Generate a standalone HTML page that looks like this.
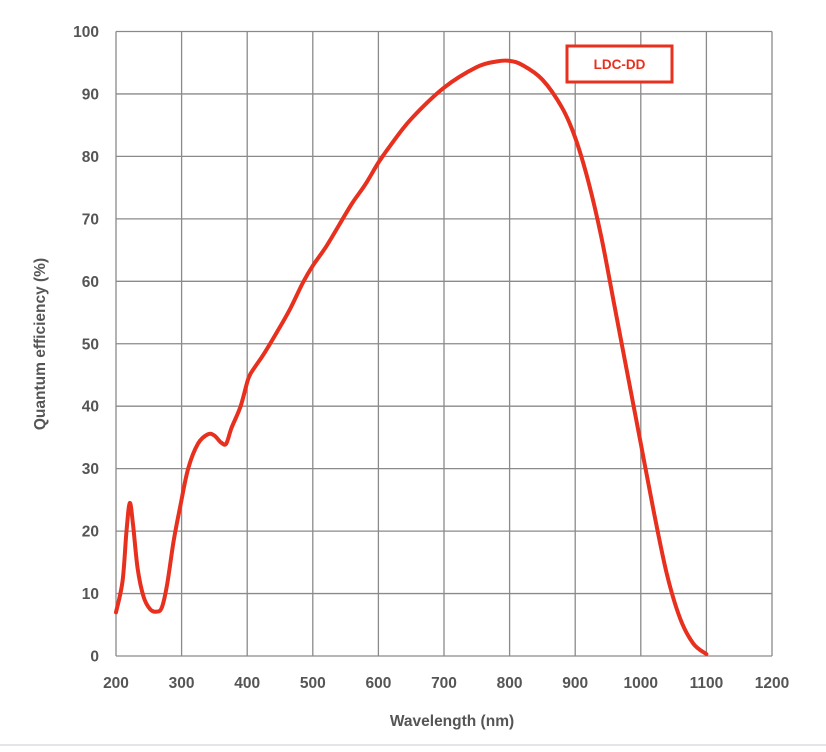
<!DOCTYPE html>
<html><head><meta charset="utf-8"><style>
body{margin:0;background:#fff;width:826px;height:747px;overflow:hidden}
svg text{font-family:"Liberation Sans",Arial,sans-serif;font-weight:bold;fill:#555}
</style></head><body>
<svg width="826" height="747" xmlns="http://www.w3.org/2000/svg">
<g id="grid" stroke="#8a8a8a" stroke-width="1.3" fill="none"></g>
<g id="lab" font-size="15.5"></g>
<text x="45" y="344" font-size="15.5" text-anchor="middle" transform="rotate(-90 45 344)">Quantum efficiency (%)</text>
<text x="452" y="726" font-size="15.5" text-anchor="middle">Wavelength (nm)</text>
<path id="curve" fill="none" stroke="#e8301f" stroke-width="4" stroke-linecap="round" stroke-linejoin="round"/>
<rect x="567" y="46" width="105" height="36" fill="#fff" stroke="#e8301f" stroke-width="3"/>
<text x="619.5" y="69" font-size="13.5" text-anchor="middle" style="fill:#e8301f">LDC-DD</text>
<line x1="0" y1="745" x2="826" y2="745" stroke="#e4e4ec" stroke-width="2"/>
</svg>
<script>
var L=116,R=772,T=31.5,B=656,ns="http://www.w3.org/2000/svg";
var g=document.getElementById('grid'),lab=document.getElementById('lab');
function el(p,t,a,txt){var e=document.createElementNS(ns,t);for(var k in a)e.setAttribute(k,a[k]);if(txt)e.textContent=txt;p.appendChild(e);}
for(var i=0;i<=10;i++){var x=L+(R-L)*i/10;el(g,'line',{x1:x,y1:T,x2:x,y2:B});el(lab,'text',{x:x,y:688,'text-anchor':'middle'},String(200+100*i));
var y=B-(B-T)*i/10;el(g,'line',{x1:L,y1:y,x2:R,y2:y});el(lab,'text',{x:99,y:y+5.5,'text-anchor':'end'},String(10*i));}
var d=[[200,7],[210,12],[216,20],[221,24.5],[226,21],[233,14],[242,9.5],[252,7.5],[262,7.1],[270,7.8],[278,11.5],[288,18.5],[298,24],[310,30],[325,34],[340,35.5],[350,35.3],[360,34.2],[368,34],[376,36.5],[390,40],[402,44.5],[412,46.3],[425,48.3],[445,51.8],[465,55.5],[485,59.8],[500,62.5],[520,65.5],[540,69],[560,72.5],[580,75.5],[600,79],[620,82],[650,86],[700,91],[750,94.3],[780,95.2],[800,95.3],[820,94.6],[850,92.3],[880,87.8],[900,83],[920,76],[940,67],[960,56],[980,45],[1000,34],[1020,23],[1040,13],[1060,6],[1080,2],[1100,0.3]];
var p=d.map(function(a){return[L+(a[0]-200)*(R-L)/1000,B-a[1]*(B-T)/100]});
var s='M'+p[0][0]+','+p[0][1];
for(var i=0;i<p.length-1;i++){var p0=p[i-1]||p[i],p1=p[i],p2=p[i+1],p3=p[i+2]||p2;
s+=' C'+(p1[0]+(p2[0]-p0[0])/6)+','+(p1[1]+(p2[1]-p0[1])/6)+' '+(p2[0]-(p3[0]-p1[0])/6)+','+(p2[1]-(p3[1]-p1[1])/6)+' '+p2[0]+','+p2[1];}
document.getElementById('curve').setAttribute('d',s);
</script>
</body></html>
